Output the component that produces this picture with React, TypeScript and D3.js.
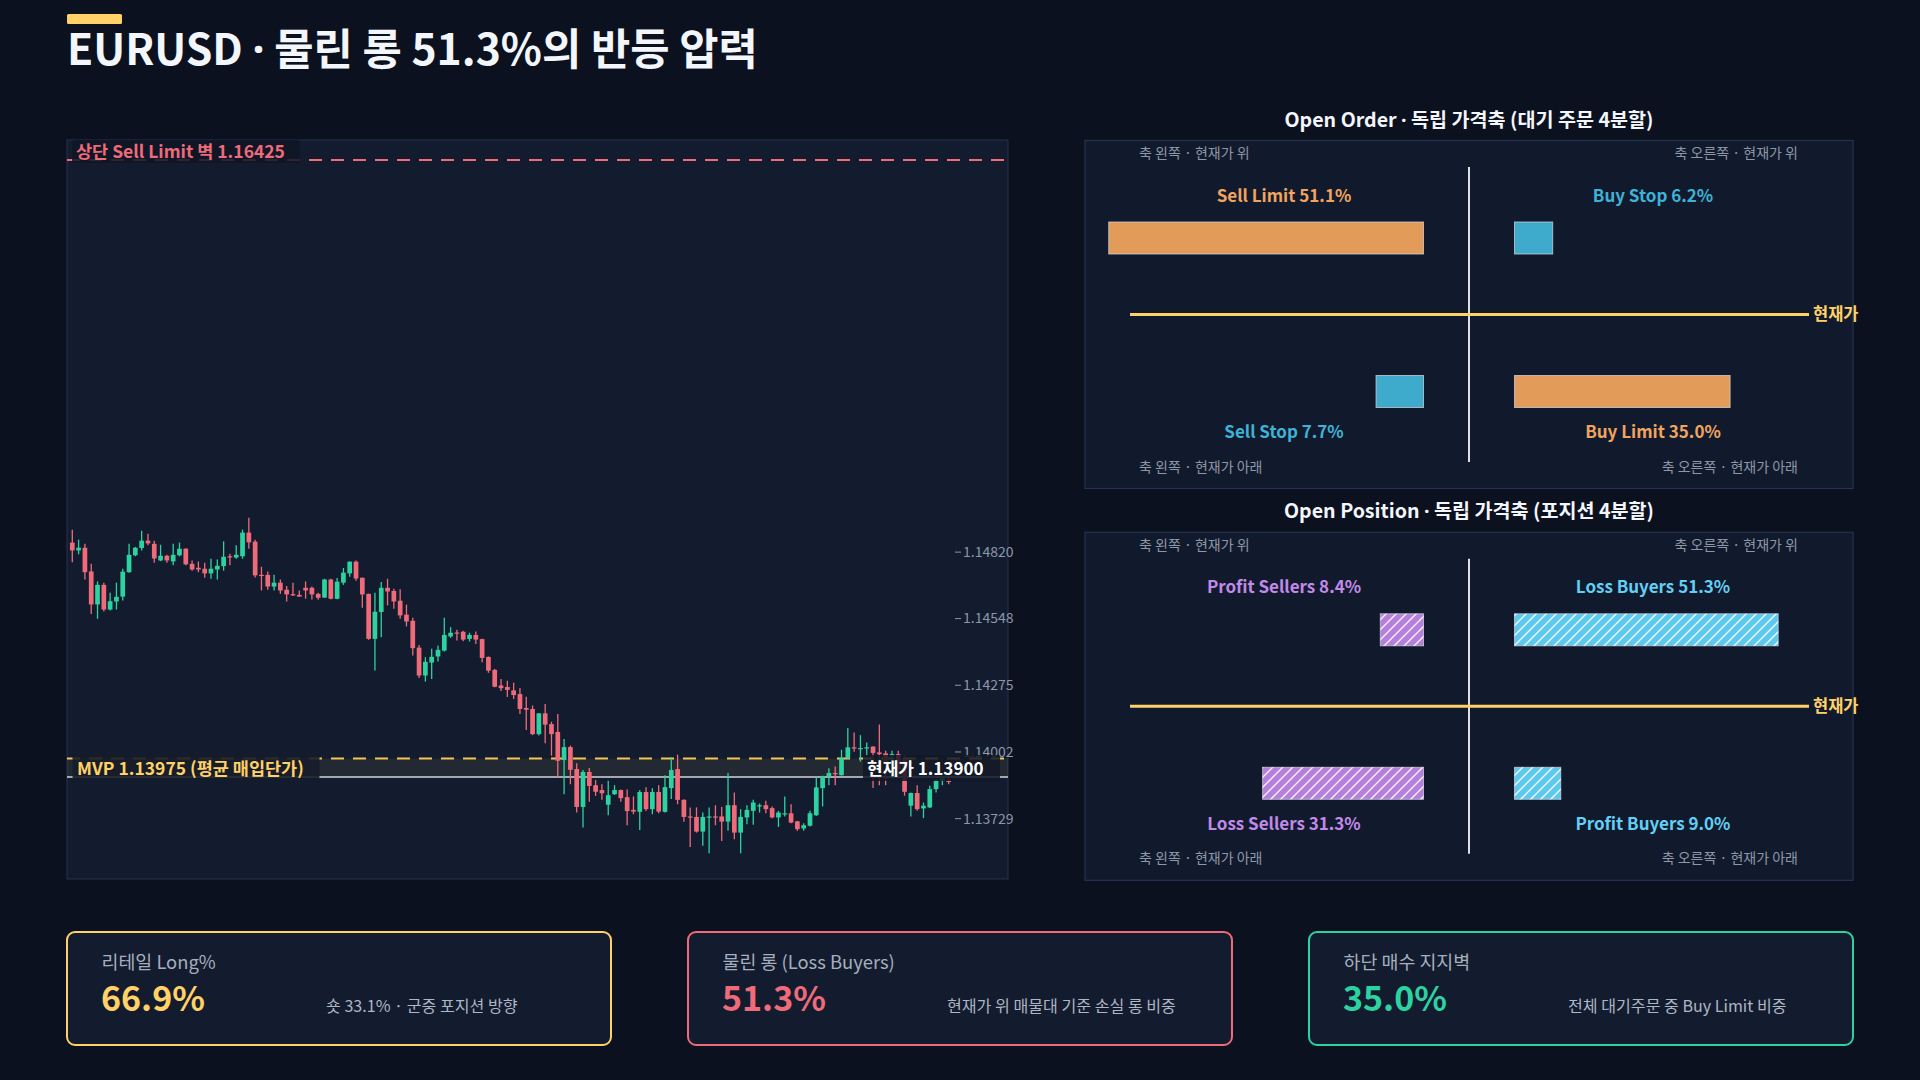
import React from 'react';
import * as d3 from 'd3';

// ---------- DATA ----------
const openP = [
  1.14859, 1.14827, 1.14838, 1.14741, 1.14606, 1.14686, 1.14585, 1.14618, 1.14638, 1.14738,
  1.14807, 1.14837, 1.14867, 1.14854, 1.14786, 1.14805, 1.14782, 1.14807, 1.14834, 1.14772,
  1.14756, 1.14752, 1.14733, 1.14749, 1.14763, 1.14803, 1.14798, 1.14803, 1.14900, 1.14863,
  1.14727, 1.14727, 1.14679, 1.14695, 1.14666, 1.14648, 1.14645, 1.14674, 1.14674, 1.14649,
  1.14634, 1.14708, 1.14629, 1.14695, 1.14733, 1.14781, 1.14715, 1.14649, 1.14465, 1.14575,
  1.14674, 1.14661, 1.14621, 1.14564, 1.14539, 1.14429, 1.14315, 1.14368, 1.14393, 1.14417,
  1.14475, 1.14491, 1.14494, 1.14465, 1.14481, 1.14464, 1.14391, 1.14338, 1.14274, 1.14268,
  1.14254, 1.14239, 1.14182, 1.14178, 1.14075, 1.14160, 1.14116, 1.14084, 1.13969, 1.14022,
  1.13932, 1.13777, 1.13920, 1.13866, 1.13846, 1.13786, 1.13829, 1.13846, 1.13817, 1.13765,
  1.13757, 1.13838, 1.13768, 1.13838, 1.13757, 1.13854, 1.13932, 1.13806, 1.13738, 1.13736,
  1.13676, 1.13734, 1.13738, 1.13738, 1.13717, 1.13784, 1.13672, 1.13734, 1.13761, 1.13779,
  1.13784, 1.13772, 1.13734, 1.13747, 1.13751, 1.13718, 1.13689, 1.13700, 1.13743, 1.13854,
  1.13902, 1.13916, 1.13907, 1.13976, 1.14021, 1.14014, 1.14017, 1.14024, 1.14000, 1.13996,
  1.13987, 1.13993, 1.13973, 1.13782, 1.13834, 1.13771, 1.13775, 1.13850, 1.13884, 1.13884,
];
const highP = [
  1.14912, 1.14871, 1.14854, 1.14772, 1.14700, 1.14695, 1.14654, 1.14695, 1.14752, 1.14854,
  1.14841, 1.14908, 1.14895, 1.14867, 1.14850, 1.14809, 1.14854, 1.14859, 1.14836, 1.14786,
  1.14782, 1.14777, 1.14793, 1.14790, 1.14864, 1.14813, 1.14848, 1.14912, 1.14961, 1.14871,
  1.14760, 1.14741, 1.14727, 1.14708, 1.14681, 1.14695, 1.14663, 1.14700, 1.14679, 1.14654,
  1.14711, 1.14711, 1.14714, 1.14755, 1.14782, 1.14786, 1.14716, 1.14650, 1.14654, 1.14698,
  1.14711, 1.14670, 1.14668, 1.14605, 1.14551, 1.14440, 1.14390, 1.14424, 1.14438, 1.14551,
  1.14513, 1.14502, 1.14498, 1.14490, 1.14495, 1.14465, 1.14393, 1.14342, 1.14301, 1.14293,
  1.14285, 1.14264, 1.14228, 1.14192, 1.14161, 1.14198, 1.14126, 1.14157, 1.14055, 1.14028,
  1.13956, 1.13928, 1.13936, 1.13887, 1.13870, 1.13884, 1.13866, 1.13848, 1.13848, 1.13820,
  1.13846, 1.13858, 1.13854, 1.13866, 1.13907, 1.13980, 1.13991, 1.13808, 1.13775, 1.13775,
  1.13754, 1.13775, 1.13784, 1.13777, 1.13916, 1.13836, 1.13768, 1.13784, 1.13806, 1.13791,
  1.13802, 1.13779, 1.13761, 1.13820, 1.13788, 1.13720, 1.13710, 1.13761, 1.13898, 1.13905,
  1.13935, 1.13942, 1.14011, 1.14100, 1.14082, 1.14071, 1.14041, 1.14025, 1.14114, 1.14007,
  1.14007, 1.14007, 1.13987, 1.13836, 1.13866, 1.13795, 1.13864, 1.13891, 1.13905, 1.13898,
];
const lowP = [
  1.14779, 1.14811, 1.14708, 1.14567, 1.14547, 1.14577, 1.14581, 1.14585, 1.14622, 1.14736,
  1.14803, 1.14827, 1.14848, 1.14777, 1.14783, 1.14777, 1.14766, 1.14803, 1.14766, 1.14744,
  1.14738, 1.14715, 1.14711, 1.14708, 1.14744, 1.14766, 1.14793, 1.14793, 1.14834, 1.14716,
  1.14663, 1.14666, 1.14663, 1.14649, 1.14618, 1.14640, 1.14637, 1.14629, 1.14626, 1.14625,
  1.14633, 1.14627, 1.14627, 1.14686, 1.14719, 1.14703, 1.14592, 1.14461, 1.14335, 1.14472,
  1.14602, 1.14588, 1.14547, 1.14516, 1.14397, 1.14305, 1.14290, 1.14301, 1.14372, 1.14413,
  1.14469, 1.14458, 1.14455, 1.14454, 1.14444, 1.14369, 1.14326, 1.14267, 1.14252, 1.14227,
  1.14219, 1.14157, 1.14092, 1.14071, 1.14069, 1.14038, 1.13987, 1.13900, 1.13829, 1.13870,
  1.13754, 1.13693, 1.13798, 1.13822, 1.13806, 1.13743, 1.13826, 1.13798, 1.13702, 1.13747,
  1.13683, 1.13760, 1.13747, 1.13751, 1.13754, 1.13809, 1.13788, 1.13716, 1.13613, 1.13672,
  1.13618, 1.13587, 1.13702, 1.13638, 1.13679, 1.13645, 1.13587, 1.13706, 1.13704, 1.13754,
  1.13751, 1.13731, 1.13695, 1.13738, 1.13710, 1.13679, 1.13679, 1.13697, 1.13740, 1.13779,
  1.13866, 1.13866, 1.13905, 1.13973, 1.14003, 1.13962, 1.13987, 1.13854, 1.13866, 1.13866,
  1.13946, 1.13905, 1.13823, 1.13738, 1.13761, 1.13731, 1.13773, 1.13836, 1.13866, 1.13870,
];
const closeP = [
  1.14827, 1.14838, 1.14738, 1.14606, 1.14686, 1.14585, 1.14619, 1.14637, 1.14740, 1.14809,
  1.14838, 1.14867, 1.14856, 1.14794, 1.14805, 1.14786, 1.14809, 1.14834, 1.14770, 1.14749,
  1.14749, 1.14733, 1.14752, 1.14764, 1.14801, 1.14798, 1.14809, 1.14900, 1.14860, 1.14725,
  1.14724, 1.14679, 1.14695, 1.14663, 1.14647, 1.14643, 1.14638, 1.14663, 1.14647, 1.14633,
  1.14708, 1.14629, 1.14699, 1.14736, 1.14781, 1.14712, 1.14647, 1.14465, 1.14576, 1.14674,
  1.14659, 1.14618, 1.14561, 1.14536, 1.14427, 1.14315, 1.14371, 1.14391, 1.14420, 1.14481,
  1.14490, 1.14487, 1.14462, 1.14481, 1.14462, 1.14387, 1.14335, 1.14269, 1.14263, 1.14256,
  1.14235, 1.14178, 1.14175, 1.14075, 1.14160, 1.14114, 1.14075, 1.13966, 1.14022, 1.13929,
  1.13777, 1.13920, 1.13863, 1.13839, 1.13833, 1.13825, 1.13846, 1.13813, 1.13760, 1.13758,
  1.13838, 1.13768, 1.13838, 1.13758, 1.13858, 1.13928, 1.13806, 1.13736, 1.13734, 1.13676,
  1.13736, 1.13738, 1.13734, 1.13717, 1.13784, 1.13672, 1.13736, 1.13765, 1.13795, 1.13784,
  1.13768, 1.13734, 1.13754, 1.13751, 1.13713, 1.13686, 1.13702, 1.13751, 1.13857, 1.13902,
  1.13916, 1.13911, 1.13976, 1.14021, 1.14017, 1.14018, 1.14021, 1.13998, 1.13993, 1.13959,
  1.13993, 1.13932, 1.13839, 1.13834, 1.13768, 1.13782, 1.13850, 1.13884, 1.13894, 1.13880,
];
const priceTicks = [1.1482, 1.14548, 1.14275, 1.14002, 1.13729];
const priceDomain = [1.13482, 1.16507];
const sellLimitWall = 1.16425;
const mvpPrice = 1.13975;
const currentPrice = 1.139;

const mainTitle = 'EURUSD · 물린 롱 51.3%의 반등 압력';
const orderTitle = 'Open Order · 독립 가격축 (대기 주문 4분할)';
const orderNames = ['Sell Limit', 'Buy Stop', 'Sell Stop', 'Buy Limit'];
const orderValues = [51.1, 6.2, 7.7, 35.0];
const positionTitle = 'Open Position · 독립 가격축 (포지션 4분할)';
const positionNames = ['Profit Sellers', 'Loss Buyers', 'Loss Sellers', 'Profit Buyers'];
const positionValues = [8.4, 51.3, 31.3, 9.0];
const cornerLabels = ['축 왼쪽 · 현재가 위', '축 오른쪽 · 현재가 위', '축 왼쪽 · 현재가 아래', '축 오른쪽 · 현재가 아래'];

const kpiTitles = ['리테일 Long%', '물린 롱 (Loss Buyers)', '하단 매수 지지벽'];
const kpiValues = ['66.9%', '51.3%', '35.0%'];
const kpiNotes = ['숏 33.1% · 군중 포지션 방향', '현재가 위 매물대 기준 손실 롱 비중', '전체 대기주문 중 Buy Limit 비중'];

// ---------- STYLE ----------
const FONT = "'Noto Sans CJK KR', 'Noto Sans', sans-serif";
const DOT_FONT = "'Noto Sans', 'DejaVu Sans', sans-serif";
const BG = '#0b111e';
const PANEL = '#131c2f';
const PANEL_BORDER = '#263350';
const YELLOW = '#ffd166';
const RED = '#ef6b7a';
const GREEN = '#2cd3a0';
const GREY_TXT = '#8d97a8';

const ORDER_FILL = ['#e39b59', '#3eabcc', '#3eabcc', '#e39b59'];
const ORDER_TXT = ['#f0a460', '#3fb2d6', '#3fb2d6', '#f0a460'];
const POS_FILL = ['#b57fdb', '#5dc9ef', '#b57fdb', '#5dc9ef'];
const POS_TXT = ['#c18ae8', '#62cff4', '#c18ae8', '#62cff4'];
const KPI_COL = [YELLOW, RED, GREEN];

// render a text with a narrow (proportional) middle dot
function narrowDot(s: string) {
  const parts = s.split('·');
  const out: React.ReactNode[] = [];
  parts.forEach((p, i) => {
    out.push(<tspan key={`p${i}`}>{p}</tspan>);
    if (i < parts.length - 1) out.push(<tspan key={`d${i}`} fontFamily={DOT_FONT}>·</tspan>);
  });
  return out;
}

// ---------- CANDLE CHART ----------
function CandleChart() {
  const left = 67, top = 140, width = 941, height = 739;
  const n = openP.length;
  const x = d3.scalePoint<number>().domain(d3.range(n)).range([72.3, 948.7]);
  const y = d3.scaleLinear().domain(priceDomain).range([top + height, top]);
  const bodyW = 4.7;
  const ySell = y(sellLimitWall);
  const yMvp = y(mvpPrice);
  const yCur = y(currentPrice);
  return (
    <g>
      <rect x={left} y={top} width={width} height={height} fill={PANEL} stroke={PANEL_BORDER} strokeWidth={1} />
      <rect x={left} y={yMvp} width={width} height={yCur - yMvp} fill={YELLOW} opacity={0.07} />
      <line x1={left} x2={left + width} y1={ySell} y2={ySell} stroke={RED} strokeWidth={2} strokeDasharray="13 9" />
      <line x1={left} x2={left + width} y1={yMvp} y2={yMvp} stroke="#f3c552" strokeWidth={2} strokeDasharray="13 9" />
      <line x1={left} x2={left + width} y1={yCur} y2={yCur} stroke="#a4a8b0" strokeWidth={2} />
      {openP.map((o, i) => {
        const c = closeP[i];
        const up = c >= o;
        const col = up ? GREEN : RED;
        const cx = x(i) as number;
        const yTop = y(Math.max(o, c));
        const yBot = y(Math.min(o, c));
        return (
          <g key={i}>
            <line x1={cx} x2={cx} y1={y(highP[i])} y2={y(lowP[i])} stroke={col} strokeWidth={1.3} />
            <rect x={cx - bodyW / 2} y={yTop} width={bodyW} height={Math.max(1.2, yBot - yTop)} fill={col} />
          </g>
        );
      })}
      {priceTicks.map((t) => (
        <g key={t}>
          <line x1={955} x2={961} y1={y(t)} y2={y(t)} stroke={GREY_TXT} strokeWidth={1} />
          <text x={963} y={y(t)} dy="0.35em" fill={GREY_TXT} fontSize={14} fontFamily={FONT}>
            {t.toFixed(5)}
          </text>
        </g>
      ))}
      {/* labels */}
      <rect x={72} y={ySell - 20} width={228} height={23} rx={3} fill="#0f1525" opacity={0.85} />
      <text x={76} y={ySell - 2.5} fill={RED} fontSize={17.5} fontWeight={600} fontFamily={FONT}>
        {`상단 Sell Limit 벽 ${sellLimitWall.toFixed(5)}`}
      </text>
      <rect x={72.5} y={yMvp - 4} width={247} height={25} rx={3} fill="#161c29" opacity={0.9} />
      <text x={77} y={yMvp + 16} fill={YELLOW} fontSize={17.5} fontWeight={700} fontFamily={FONT}>
        {`MVP ${mvpPrice.toFixed(5)} (평균 매입단가)`}
      </text>
      <rect x={863} y={yCur - 22} width={137} height={26} rx={3} fill="#121826" opacity={0.85} />
      <text x={867} y={yCur - 2} fill="#ffffff" fontSize={17} fontWeight={700} fontFamily={FONT}>
        {`현재가 ${currentPrice.toFixed(5)}`}
      </text>
    </g>
  );
}

// ---------- QUADRANT PANEL ----------
type QuadProps = {
  top: number; title: string; names: string[]; values: number[];
  fills: string[]; txt: string[]; hatched: boolean; pxPerHundred: number; pid: string;
};
function QuadPanel({ top, title, names, values, fills, txt, hatched, pxPerHundred, pid }: QuadProps) {
  const left = 1085, width = 768, height = 348;
  const cx = left + width / 2;
  const gap = 45.5;
  const w = d3.scaleLinear().domain([0, 100]).range([0, pxPerHundred]);
  const barY = [top + 81.5, top + 81.5, top + 235, top + 235];
  const barH = 32;
  const labelY = [top + 61, top + 61, top + 297.5, top + 297.5];
  const labelX = [cx - 185, cx + 184, cx - 185, cx + 184];
  return (
    <g fontFamily={FONT}>
      <text x={cx} y={top - 14} textAnchor="middle" fill="#f3f6fb" fontSize={19.6} fontWeight={700}>{narrowDot(title)}</text>
      <rect x={left} y={top} width={width} height={height} fill="#111a2c" stroke={PANEL_BORDER} strokeWidth={1.2} />
      <text x={1139} y={top + 17.5} fill={GREY_TXT} fontSize={14}>{cornerLabels[0]}</text>
      <text x={1798} y={top + 17.5} fill={GREY_TXT} fontSize={14} textAnchor="end">{cornerLabels[1]}</text>
      <text x={1139} y={top + 331} fill={GREY_TXT} fontSize={14}>{cornerLabels[2]}</text>
      <text x={1798} y={top + 331} fill={GREY_TXT} fontSize={14} textAnchor="end">{cornerLabels[3]}</text>
      <line x1={cx} x2={cx} y1={top + 26.5} y2={top + 321.5} stroke="#dde1e7" strokeWidth={2} />
      {values.map((v, i) => {
        const bw = w(v);
        const isLeft = i % 2 === 0;
        const bx = isLeft ? cx - gap - bw : cx + gap;
        return (
          <g key={i}>
            <rect x={bx} y={barY[i]} width={bw} height={barH} fill={fills[i]} stroke="#d0d4da" strokeOpacity={0.75} strokeWidth={1} />
            {hatched && (
              <rect x={bx} y={barY[i]} width={bw} height={barH} fill={`url(#${pid})`} />
            )}
            <text x={labelX[i]} y={labelY[i]} textAnchor="middle" fill={txt[i]} fontSize={17} fontWeight={700}>
              {`${names[i]} ${v.toFixed(1)}%`}
            </text>
          </g>
        );
      })}
      <line x1={1130} x2={1809} y1={top + 174} y2={top + 174} stroke={YELLOW} strokeWidth={3} />
      <text x={1813} y={top + 174} dy="0.35em" fill={YELLOW} fontSize={16.5} fontWeight={700}>현재가</text>
    </g>
  );
}

// ---------- KPI CARDS ----------
function KpiCards() {
  return (
    <g fontFamily={FONT}>
      {kpiTitles.map((t, i) => {
        const x0 = 67 + i * 621;
        return (
          <g key={i}>
            <rect x={x0} y={932} width={544} height={113} rx={8} fill={PANEL} stroke={KPI_COL[i]} strokeWidth={2} />
            <text x={x0 + 34.5} y={969} fill="#a6afbe" fontSize={18.4}>{t}</text>
            <text x={x0 + 34} y={1011} fill={KPI_COL[i]} fontSize={34} fontWeight={700}>{kpiValues[i]}</text>
            <text x={x0 + 259} y={1012} fill="#aeb6c4" fontSize={16.1}>{kpiNotes[i]}</text>
          </g>
        );
      })}
    </g>
  );
}

export default function App() {
  return (
    <div style={{ position: 'fixed', left: 0, top: 0, width: 1920, height: 1080, background: BG }}>
      <svg width={1920} height={1080} viewBox="0 0 1920 1080" style={{ display: 'block' }}>
        <defs>
          <pattern id="hatchA" patternUnits="userSpaceOnUse" width={10} height={10}>
            <path d="M-2.5,2.5 l5,-5 M0,10 l10,-10 M7.5,12.5 l5,-5" stroke="#ffffff" strokeWidth={1.4} strokeOpacity={0.9} />
          </pattern>
        </defs>
        <rect width={1920} height={1080} fill={BG} />
        <rect x={67} y={14} width={55} height={10} rx={1.5} fill={YELLOW} />
        <text x={67} y={65} fill="#f3f6fb" fontSize={42.7} fontWeight={700} fontFamily={FONT}>
          {narrowDot(mainTitle)}
        </text>
        <CandleChart />
        <QuadPanel top={140.5} title={orderTitle} names={orderNames} values={orderValues}
          fills={ORDER_FILL} txt={ORDER_TXT} hatched={false} pxPerHundred={616} pid="hatchA" />
        <QuadPanel top={532.3} title={positionTitle} names={positionNames} values={positionValues}
          fills={POS_FILL} txt={POS_TXT} hatched={true} pxPerHundred={514} pid="hatchA" />
        <KpiCards />
      </svg>
    </div>
  );
}
